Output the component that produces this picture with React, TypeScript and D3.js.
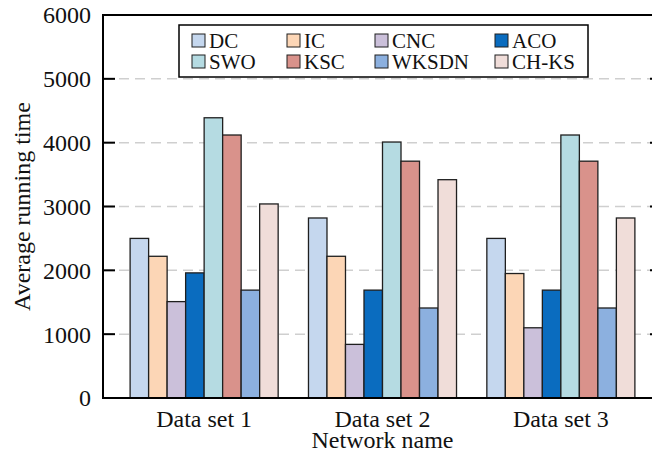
import React from "react";
import * as d3 from "d3";

const categories = ["Data set 1", "Data set 2", "Data set 3"];
const seriesNames = ["DC", "IC", "CNC", "ACO", "SWO", "KSC", "WKSDN", "CH-KS"];
const DC = [2500, 2820, 2500];
const IC = [2220, 2220, 1950];
const CNC = [1510, 840, 1100];
const ACO = [1960, 1690, 1690];
const SWO = [4390, 4010, 4120];
const KSC = [4120, 3710, 3710];
const WKSDN = [1690, 1410, 1410];
const CHKS = [3040, 3420, 2820];
const seriesValues = [DC, IC, CNC, ACO, SWO, KSC, WKSDN, CHKS];
const seriesColors = ["#c5d7ee", "#fcd6b6", "#cbc0da", "#0a6cbf", "#b5dbe2", "#d9928b", "#8cb0df", "#f0ddd9"];
const yTicks = [0, 1000, 2000, 3000, 4000, 5000, 6000];
const yLabel = "Average running time";
const xLabel = "Network name";

const W = 652;
const H = 462;
const L = 103;
const R = 662;
const T = 15;
const B = 398;
const FONT = "'Liberation Serif', 'Times New Roman', serif";

export default function App() {
  const y = d3.scaleLinear().domain([0, 6000]).range([B, T]);
  const x0 = d3.scaleBand<string>().domain(categories).range([L, R]).paddingInner(0.17).paddingOuter(0.152);
  const x1 = d3.scaleBand<string>().domain(seriesNames).range([0, x0.bandwidth()]).padding(0);

  const legendCols = [192, 287, 375, 495];
  const legendRows = [34, 55];

  return (
    <svg width={W} height={H} style={{ position: "absolute", left: 0, top: 0, background: "#fff" }} fontFamily={FONT}>
      <rect x={0} y={0} width={W} height={H} fill="#fff" />
      {yTicks.filter((t) => t > 0 && t < 6000).map((t) => (
        <line key={"g" + t} x1={L} x2={R} y1={y(t)} y2={y(t)} stroke="#cfcfcf" strokeWidth={1.5} strokeDasharray="10,6" />
      ))}
      {categories.map((c, ci) => (
        <g key={c} transform={`translate(${x0(c)},0)`}>
          {seriesNames.map((s, si) => {
            const v = seriesValues[si][ci];
            return (
              <rect key={s} x={x1(s)} y={y(v)} width={x1.bandwidth()} height={y(0) - y(v)}
                fill={seriesColors[si]} stroke="#1f1f1f" strokeWidth={1.3} />
            );
          })}
        </g>
      ))}
      <rect x={L} y={T} width={R - L} height={B - T} fill="none" stroke="#000" strokeWidth={2} />
      {yTicks.map((t) => (
        <g key={"t" + t}>
          <line x1={L} x2={L + 12} y1={y(t)} y2={y(t)} stroke="#000" strokeWidth={2} />
          <line x1={R - 12} x2={R} y1={y(t)} y2={y(t)} stroke="#000" strokeWidth={2} />
          <text x={91} y={y(t)} dy="0.35em" textAnchor="end" fontSize={24} fill="#111">{t}</text>
        </g>
      ))}
      {categories.map((c) => (
        <text key={"xl" + c} x={(x0(c) as number) + x0.bandwidth() / 2} y={427} textAnchor="middle" fontSize={24} fill="#111">{c}</text>
      ))}
      <text x={(L + R) / 2} y={448} textAnchor="middle" fontSize={24} fill="#111">{xLabel}</text>
      <text transform={`translate(30,${(T + B) / 2}) rotate(-90)`} textAnchor="middle" fontSize={24} fill="#111">{yLabel}</text>
      <rect x={179} y={25} width={409} height={52} fill="#fff" stroke="#000" strokeWidth={1.5} />
      {seriesNames.map((s, i) => {
        const col = i % 4;
        const row = Math.floor(i / 4);
        const lx = legendCols[col];
        const ly = legendRows[row];
        return (
          <g key={"lg" + s}>
            <rect x={lx} y={ly} width={13} height={13} fill={seriesColors[i]} stroke="#1f1f1f" strokeWidth={1} />
            <text x={lx + 17} y={ly + 14} fontSize={21} fill="#111">{s}</text>
          </g>
        );
      })}
    </svg>
  );
}
